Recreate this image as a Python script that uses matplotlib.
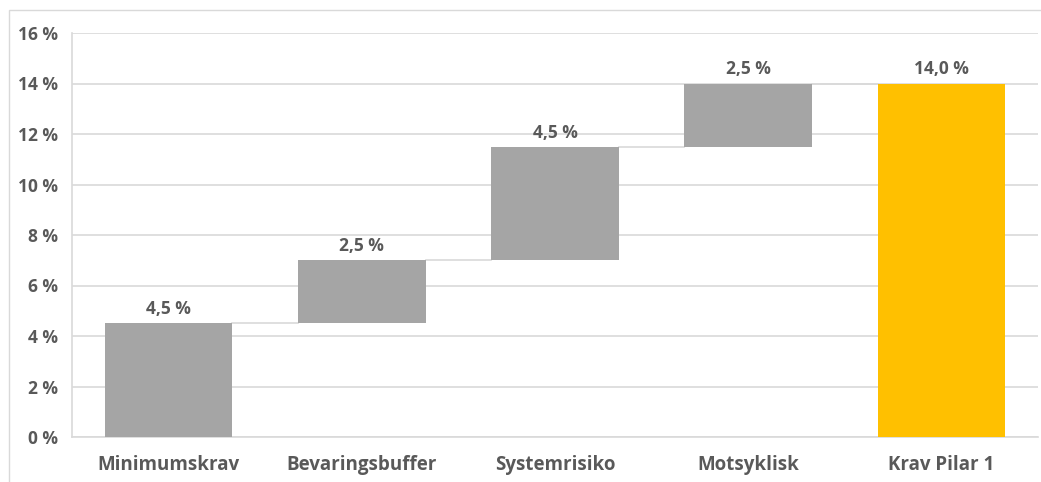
import matplotlib
matplotlib.use("Agg")
import matplotlib.pyplot as plt
from matplotlib.patches import Rectangle

categories = ["Minimumskrav", "Bevaringsbuffer", "Systemrisiko", "Motsyklisk", "Krav Pilar 1"]
increments = [4.5, 2.5, 4.5, 2.5]
total = 14.0
labels = ["4,5 %", "2,5 %", "4,5 %", "2,5 %", "14,0 %"]
yticks = [0, 2, 4, 6, 8, 10, 12, 14, 16]
ytick_labels = [f"{v} %" for v in yticks]

W, H = 1041, 482
fig = plt.figure(figsize=(W/100, H/100), dpi=100)
ax = fig.add_axes([72/W, 1-437/H, (1038-72)/W, (437-33)/H])

txt = "#595959"
grid = "#d9d9d9"
gray = "#a5a5a5"
gold = "#ffc000"

bottoms = []
acc = 0
for v in increments:
    bottoms.append(acc)
    acc += v
heights = increments + [total]
bottoms = bottoms + [0]
colors = [gray]*4 + [gold]
x = list(range(len(categories)))
bw = 0.66
ax.bar(x, heights, bottom=bottoms, width=bw, color=colors, zorder=3)

# connectors
for i in range(len(categories)-1):
    top = bottoms[i] + heights[i]
    ax.plot([i + bw/2, i + 1 - bw/2], [top, top], color=grid, lw=1.2, zorder=2)

for i in range(len(categories)):
    top = bottoms[i] + heights[i]
    ax.text(i, top + 0.2, labels[i], ha="center", va="bottom", fontsize=12.5,
            fontweight="bold", color=txt, family="Open Sans")

ax.set_xlim(-0.5, 4.5)
ax.set_ylim(0, 16)
ax.set_yticks(yticks)
ax.set_yticklabels(ytick_labels)
ax.set_xticks(x)
ax.set_xticklabels(categories)
for lab in ax.get_yticklabels():
    lab.set_fontweight("bold")
    lab.set_color(txt)
    lab.set_fontsize(12.5)
    lab.set_family("Open Sans")
for lab in ax.get_xticklabels():
    lab.set_fontweight("bold")
    lab.set_color(txt)
    lab.set_fontsize(13.5)
    lab.set_family("Open Sans")
ax.tick_params(axis="both", length=0)
ax.tick_params(axis="x", pad=13)
ax.tick_params(axis="y", pad=10)
ax.grid(axis="y", color=grid, lw=1.2, zorder=0)
for s in ["top", "right"]:
    ax.spines[s].set_visible(False)
ax.spines["left"].set_color(grid)
ax.spines["bottom"].set_color(grid)
ax.spines["left"].set_linewidth(1.2)
ax.spines["bottom"].set_linewidth(1.2)

fig.patches.append(Rectangle((9/W, -0.1), 1.2, 1 - 10/H + 0.1, transform=fig.transFigure,
                             fill=False, edgecolor="#d9d9d9", lw=1))

fig.savefig("out.png", dpi=100)
